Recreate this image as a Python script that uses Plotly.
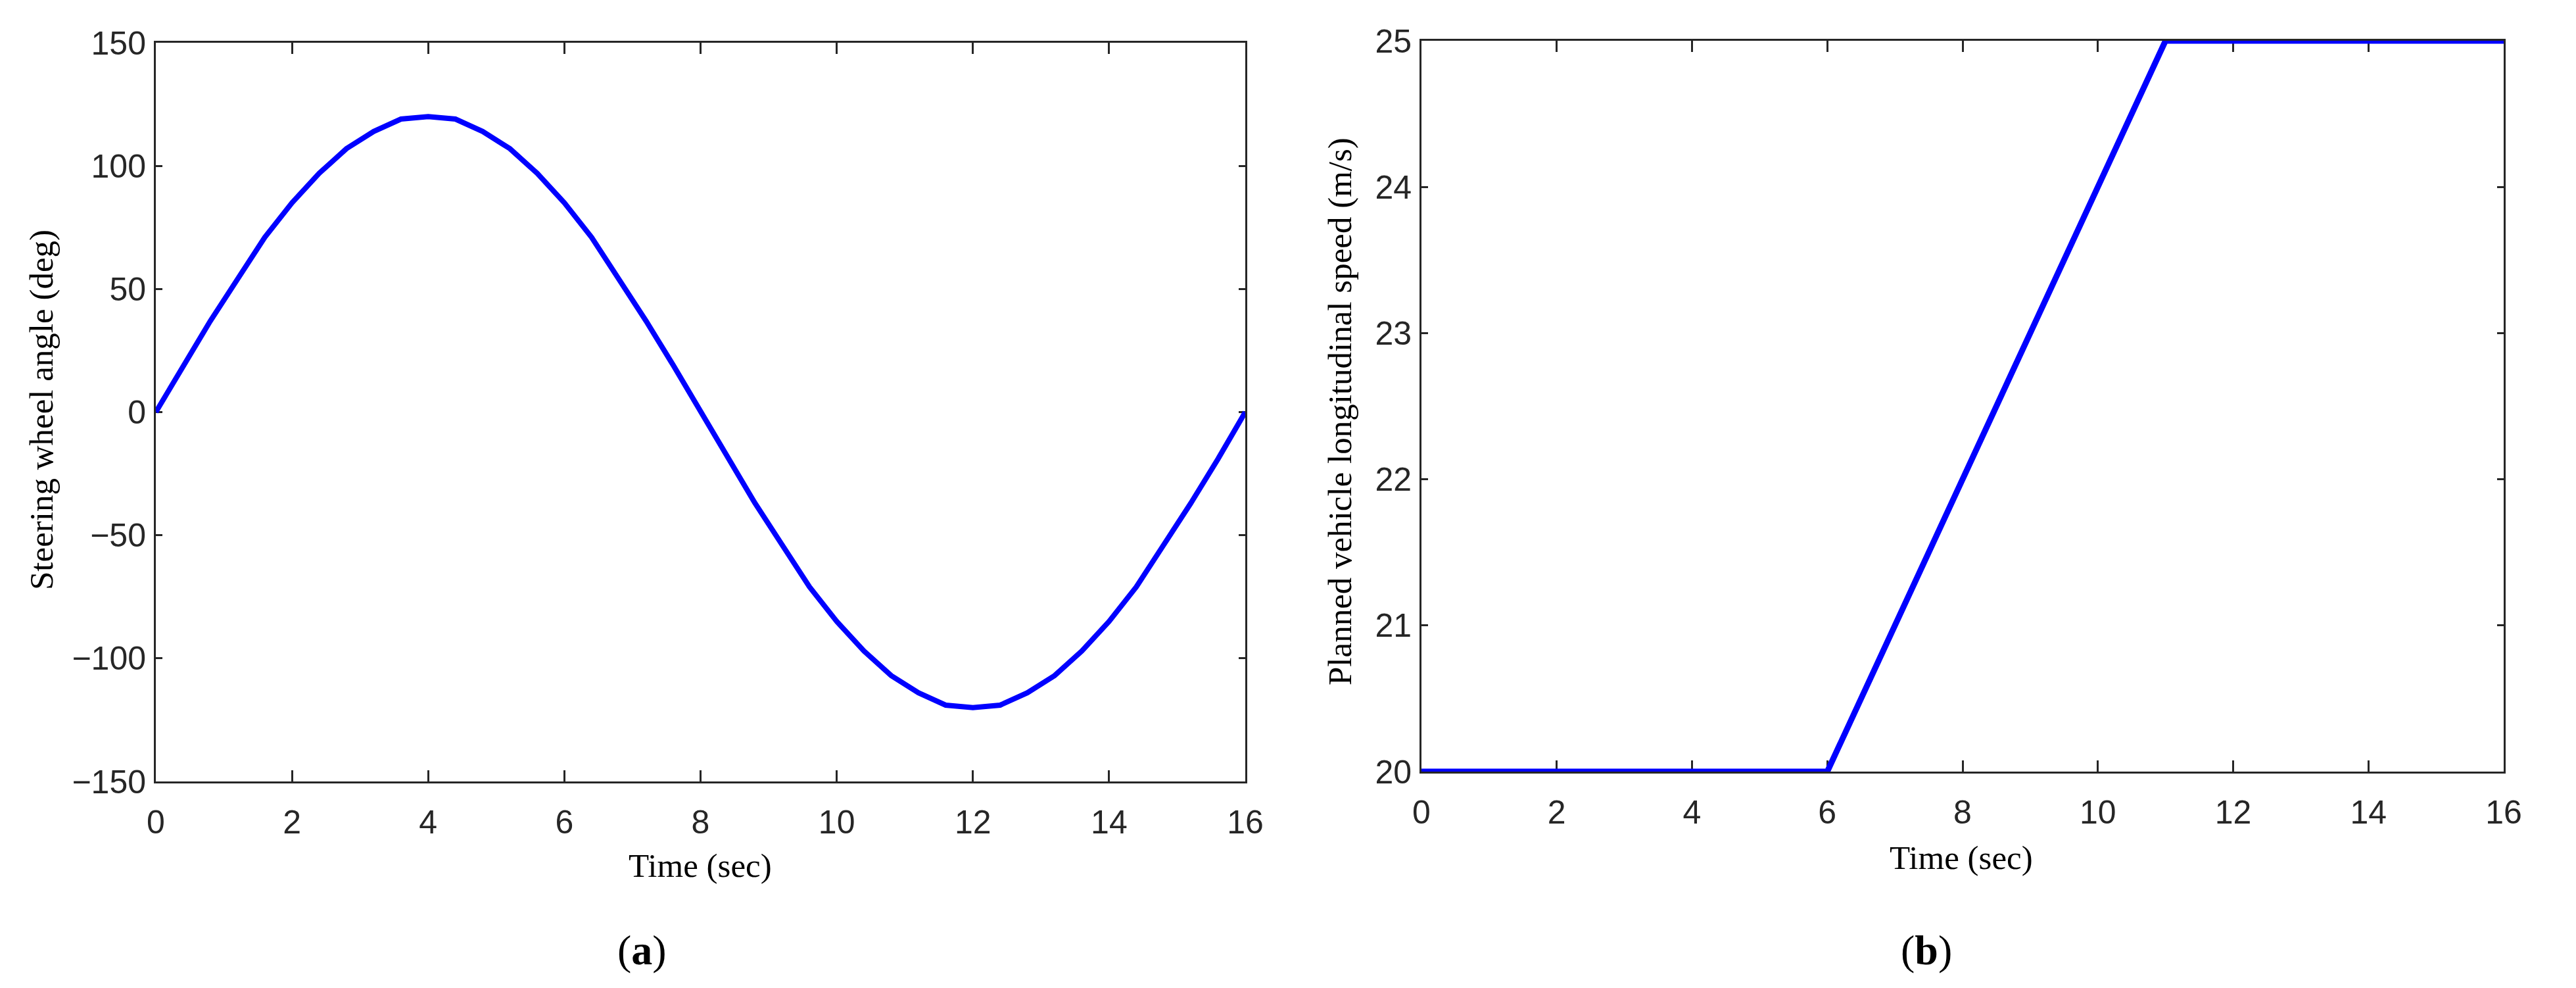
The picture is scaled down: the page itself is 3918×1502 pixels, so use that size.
import plotly.graph_objects as go

# ---- data ----
time_a = [0.0, 0.4, 0.8, 1.2, 1.6, 2.0, 2.4, 2.8, 3.2, 3.6, 4.0, 4.4, 4.8, 5.2, 5.6, 6.0,
          6.4, 6.8, 7.2, 7.6, 8.0, 8.4, 8.8, 9.2, 9.6, 10.0, 10.4, 10.8, 11.2, 11.6, 12.0,
          12.4, 12.8, 13.2, 13.6, 14.0, 14.4, 14.8, 15.2, 15.6, 16.0]
steer_deg = [0, 19, 37, 54, 71, 85, 97, 107, 114, 119, 120, 119, 114, 107, 97, 85,
             71, 54, 37, 19, 0, -19, -37, -54, -71, -85, -97, -107, -114, -119, -120,
             -119, -114, -107, -97, -85, -71, -54, -37, -19, 0]

time_b = [0, 6, 11, 16]
speed_ms = [20, 20, 25, 25]

x_ticks = [0, 2, 4, 6, 8, 10, 12, 14, 16]
x_ticklabels = ["0", "2", "4", "6", "8", "10", "12", "14", "16"]
ya_ticks = [-150, -100, -50, 0, 50, 100, 150]
ya_ticklabels = ["\u2212150", "\u2212100", "\u221250", "0", "50", "100", "150"]
yb_ticks = [20, 21, 22, 23, 24, 25]
yb_ticklabels = ["20", "21", "22", "23", "24", "25"]

W, H = 3918, 1502
AX = "#262626"
BLUE = "#0000FF"

fig = go.Figure()
fig.add_trace(go.Scatter(x=time_a, y=steer_deg, mode="lines",
                         line=dict(color=BLUE, width=8), xaxis="x", yaxis="y",
                         showlegend=False, hoverinfo="skip", cliponaxis=False))
fig.add_trace(go.Scatter(x=time_b, y=speed_ms, mode="lines",
                         line=dict(color=BLUE, width=9), xaxis="x2", yaxis="y2",
                         showlegend=False, hoverinfo="skip", cliponaxis=False))

tickfont = dict(family="Liberation Sans, Arial, sans-serif", size=50, color=AX)

def xax(domain, anchor):
    return dict(domain=domain, anchor=anchor, range=[0, 16], tickvals=x_ticks,
                ticktext=x_ticklabels, ticks="inside", ticklen=17, tickwidth=3,
                tickcolor=AX, showline=True, linecolor=AX, linewidth=3, mirror="ticks",
                showgrid=False, zeroline=False, tickfont=tickfont, layer="below traces",
                automargin=False, ticklabelstandoff=16)

def yax(domain, anchor, rng, tv, tt):
    return dict(domain=domain, anchor=anchor, range=rng, tickvals=tv, ticktext=tt,
                ticks="inside", ticklen=10, tickwidth=3, tickcolor=AX, showline=True,
                linecolor=AX, linewidth=3, mirror="ticks", showgrid=False,
                zeroline=False, tickfont=tickfont, layer="below traces",
                automargin=False, ticklabelstandoff=2)

xa_dom = [229 / W, 1886 / W]
xb_dom = [2154 / W, 3800 / W]
ya_dom = [1 - 1180 / H, 1 - 57 / H]
yb_dom = [1 - 1165 / H, 1 - 54 / H]

fig.update_layout(
    width=W, height=H,
    margin=dict(l=0, r=0, t=0, b=0, autoexpand=False),
    paper_bgcolor="white", plot_bgcolor="white",
    xaxis=xax(xa_dom, "y"),
    yaxis=yax(ya_dom, "x", [-150, 150], ya_ticks, ya_ticklabels),
    xaxis2=xax(xb_dom, "y2"),
    yaxis2=yax(yb_dom, "x2", [20, 25], yb_ticks, yb_ticklabels),
)

serif = "Liberation Serif, Times New Roman, serif"
titlefont = dict(family=serif, size=51, color="black")
ann = []
ann.append(dict(text="Time (sec)", x=1057 / W, y=1 - 1308 / H, xref="paper", yref="paper",
                showarrow=False, font=titlefont, xanchor="center", yanchor="middle"))
ann.append(dict(text="Time (sec)", x=2975 / W, y=1 - 1296 / H, xref="paper", yref="paper",
                showarrow=False, font=titlefont, xanchor="center", yanchor="middle"))
ann.append(dict(text="Steering wheel angle (deg)", x=55 / W, y=1 - 615 / H, xref="paper",
                yref="paper", showarrow=False, font=titlefont, textangle=-90,
                xanchor="center", yanchor="middle"))
ann.append(dict(text="Planned vehicle longitudinal speed (m/s)", x=2030 / W, y=1 - 618 / H,
                xref="paper", yref="paper", showarrow=False, font=titlefont, textangle=-90,
                xanchor="center", yanchor="middle"))
labfont = dict(family=serif, size=64, color="black")
ann.append(dict(text="(<b>a</b>)", x=968 / W, y=1 - 1436 / H, xref="paper", yref="paper",
                showarrow=False, font=labfont, xanchor="center", yanchor="middle"))
ann.append(dict(text="(<b>b</b>)", x=2922 / W, y=1 - 1436 / H, xref="paper", yref="paper",
                showarrow=False, font=labfont, xanchor="center", yanchor="middle"))
fig.update_layout(annotations=ann)

fig.write_html("out.html")
